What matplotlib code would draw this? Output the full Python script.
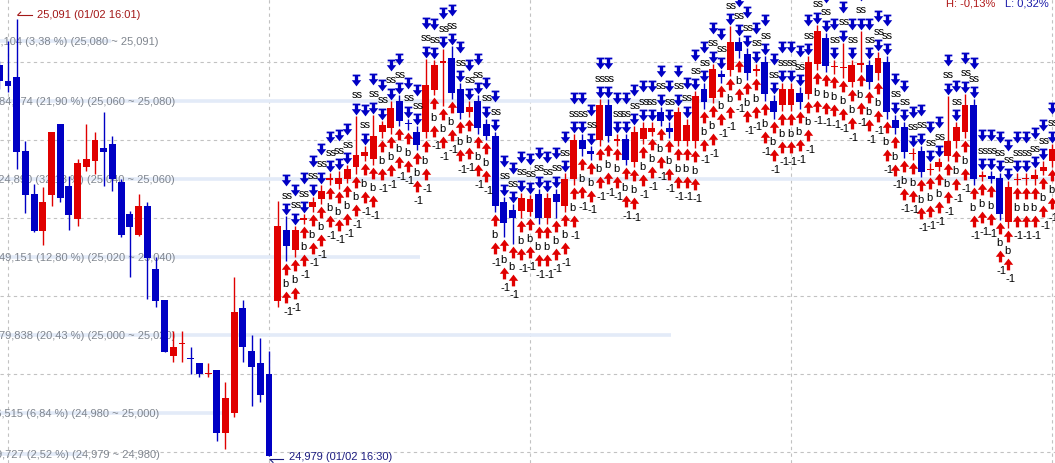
import numpy as np
import matplotlib
matplotlib.use("Agg")
import matplotlib.pyplot as plt
from matplotlib.path import Path

plt.rcParams['font.family'] = ['Liberation Sans', 'DejaVu Sans']

# minute offset from 16:00 (one candle per minute)
minutes = list(range(-1, 121))

opens = [25079.2, 25075.1, 25076.2, 25057.2, 25046.2, 25036.7, 25045.9, 25064.1, 25048.2, 25039.7,
         25053.1, 25054.6, 25058.0, 25059.0, 25049.2, 25041.0, 25035.6, 25043.1, 25026.9, 25019.0,
         25004.6, 25007.7, 25004.0, 25002.8, 24999.9, 25001.0, 24984.9, 24990.0, 25016.9, 25005.9,
         25002.8, 25000.0, 25018.7, 25036.9, 25031.8, 25039.5, 25042.8, 25044.9, 25049.8, 25048.7,
         25050.0, 25053.1, 25056.0, 25055.1, 25062.1, 25063.1, 25070.0, 25064.2, 25062.1, 25062.1,
         25072.8, 25079.8, 25081.0, 25073.1, 25067.2, 25070.0, 25064.1, 25061.0, 25044.1, 25042.1,
         25041.8, 25041.5, 25046.2, 25040.0, 25046.2, 25043.1, 25050.0, 25060.0, 25057.2, 25060.0,
         25069.0, 25059.8, 25060.3, 25054.4, 25060.3, 25062.1, 25067.2, 25063.1, 25059.7, 25059.7,
         25059.7, 25073.1, 25070.8, 25076.9, 25077.9, 25085.1, 25082.1, 25077.8, 25080.0, 25070.0,
         25069.0, 25069.0, 25072.1, 25071.8, 25079.5, 25086.2, 25078.6, 25078.5, 25074.9, 25079.3,
         25079.2, 25077.2, 25080.0, 25065.1, 25063.3, 25056.3, 25057.2, 25052.2, 25053.1, 25055.9,
         25059.7, 25062.1, 25069.0, 25050.6, 25050.8, 25050.3, 25039.0, 25049.8, 25049.9, 25050.0,
         25052.1, 25054.6]
highs = [25080.3, 25085.4, 25091.0, 25059.7, 25048.7, 25047.9, 25062.1, 25064.1, 25050.8, 25055.1,
         25064.1, 25062.1, 25067.2, 25061.0, 25050.0, 25041.8, 25046.2, 25044.1, 25030.0, 25019.0,
         25011.0, 25011.0, 25006.9, 25002.8, 25002.8, 25001.0, 24997.9, 25024.9, 25019.0, 25010.0,
         25009.2, 25005.9, 25044.4, 25040.5, 25038.0, 25041.0, 25045.5, 25048.5, 25051.5, 25052.0,
         25053.5, 25066.2, 25058.5, 25066.5, 25065.0, 25070.0, 25071.5, 25065.5, 25063.5, 25080.8,
         25080.5, 25083.3, 25084.1, 25074.5, 25070.0, 25071.5, 25065.5, 25062.0, 25045.5, 25043.5,
         25046.5, 25046.0, 25047.5, 25046.5, 25047.5, 25051.5, 25061.5, 25061.5, 25058.5, 25070.5,
         25070.5, 25061.5, 25061.5, 25063.5, 25064.5, 25064.5, 25068.5, 25064.5, 25068.5, 25065.5,
         25072.5, 25074.5, 25079.5, 25078.0, 25089.2, 25086.5, 25083.5, 25079.5, 25081.5, 25071.5,
         25074.5, 25074.5, 25073.5, 25081.5, 25089.5, 25087.5, 25080.5, 25085.0, 25080.5, 25088.0,
         25080.5, 25082.5, 25081.5, 25066.5, 25064.5, 25058.0, 25058.5, 25054.0, 25055.5, 25071.3,
         25064.5, 25071.8, 25070.5, 25052.0, 25052.0, 25051.5, 25049.5, 25051.5, 25051.5, 25052.5,
         25054.5, 25059.0]
lows = [25073.1, 25072.3, 25052.6, 25041.3, 25036.4, 25033.1, 25043.1, 25044.1, 25036.9, 25037.9,
        25052.1, 25051.3, 25048.2, 25046.9, 25035.1, 25024.9, 25035.3, 25019.2, 25017.2, 25005.6,
        25003.1, 25003.1, 25000.0, 24999.2, 24999.2, 24982.8, 24980.8, 24989.0, 25003.1, 24991.8,
        24992.8, 24979.0, 25017.2, 25029.0, 25030.0, 25038.5, 25041.5, 25043.5, 25048.5, 25047.5,
        25049.0, 25051.3, 25054.5, 25053.5, 25060.5, 25061.5, 25063.5, 25062.5, 25057.5, 25060.5,
        25071.5, 25068.7, 25070.5, 25065.5, 25066.0, 25061.5, 25060.0, 25041.5, 25035.1, 25033.3,
        25040.0, 25040.5, 25038.5, 25038.5, 25040.0, 25041.5, 25048.5, 25056.0, 25055.0, 25058.5,
        25059.5, 25058.5, 25053.5, 25053.0, 25059.0, 25061.0, 25063.5, 25060.5, 25058.5, 25058.5,
        25058.0, 25068.0, 25069.5, 25074.5, 25076.5, 25081.0, 25075.5, 25076.5, 25070.0, 25065.5,
        25067.5, 25067.5, 25068.0, 25070.5, 25078.0, 25077.5, 25077.0, 25076.0, 25073.5, 25077.5,
        25073.0, 25075.5, 25065.5, 25061.5, 25055.5, 25055.0, 25050.5, 25051.0, 25052.0, 25054.5,
        25058.0, 25060.5, 25048.5, 25049.5, 25049.0, 25039.5, 25037.5, 25048.5, 25048.5, 25048.5,
        25051.0, 25053.0]
closes = [25075.1, 25073.8, 25056.9, 25045.9, 25036.7, 25044.1, 25062.1, 25045.1, 25040.8, 25054.1,
          25055.1, 25060.0, 25056.9, 25050.0, 25035.6, 25037.7, 25043.1, 25029.7, 25018.7, 25005.6,
          25006.9, 25008.0, 25003.8, 25000.0, 25000.1, 24984.9, 24993.8, 25015.9, 25006.9, 25001.8,
          24994.6, 24979.0, 25037.9, 25032.8, 25036.9, 25040.0, 25044.2, 25047.0, 25050.2, 25050.2,
          25052.5, 25056.1, 25057.0, 25061.0, 25063.8, 25068.2, 25064.9, 25064.0, 25058.7, 25074.1,
          25079.2, 25080.2, 25072.1, 25066.9, 25068.5, 25063.1, 25061.0, 25043.1, 25038.7, 25040.0,
          25045.1, 25045.0, 25040.0, 25045.1, 25044.1, 25050.0, 25060.0, 25057.7, 25056.4, 25069.0,
          25061.0, 25060.2, 25054.9, 25062.1, 25063.1, 25063.1, 25064.9, 25062.1, 25067.2, 25063.8,
          25071.3, 25069.7, 25078.2, 25076.2, 25085.1, 25082.8, 25077.2, 25078.1, 25071.8, 25067.2,
          25073.1, 25073.1, 25069.7, 25080.0, 25087.9, 25079.0, 25078.9, 25078.8, 25079.2, 25079.7,
          25074.9, 25081.0, 25067.2, 25063.1, 25056.9, 25056.6, 25051.8, 25052.5, 25054.4, 25059.7,
          25063.3, 25069.0, 25050.0, 25050.9, 25050.0, 25041.0, 25047.9, 25050.1, 25050.2, 25051.0,
          25053.1, 25057.7]

# price-band volume profile
band_low = [25080, 25060, 25040, 25020, 25000, 24980, 24979]
band_high = [25091, 25080, 25060, 25040, 25020, 25000, 24980]
band_vol = ["13,104", "84,974", "124,890", "49,151", "79,838", "26,515", "9,727"]
band_pct = [3.38, 21.90, 32.13, 12.80, 20.43, 6.84, 2.52]

# signals shown from this minute on
signal_from = 31
sell_text = "ss"
buy_text = "b"
exit_text = "-1"

high_text = "25,091 (01/02 16:01)"
low_text = "24,979 (01/02 16:30)"
hi_pct_text = "H: -0,13%"
lo_pct_text = "L: 0,32%"

RED = '#e00000'
BLUE = '#0000c4'
W, H = 1055, 464
PXX, PXY = 8.7, 3.9          # px per candle, px per price unit
X0, Y0 = 8, 375              # pixel of minute 0 / price 25000

fig = plt.figure(figsize=(W / 100, H / 100), dpi=100)
ax = fig.add_axes([0, 0, 1, 1])
ax.set_xlim((0 - X0) / PXX, (W - X0) / PXX)
ax.set_ylim(25000 - (H - Y0) / PXY, 25000 + Y0 / PXY)
ax.axis('off')

def pdata(px, py):
    return (px - X0) / PXX, 25000 + (Y0 - py) / PXY

# grid
for p in range(24980, 25081, 20):
    ax.axhline(p, color='#c2c2c2', lw=0.8, ls=(0, (3, 3)), zorder=0)
for m in range(0, 121, 30):
    ax.axvline(m, color='#c2c2c2', lw=0.8, ls=(0, (3, 3)), zorder=0)

# volume profile lines and labels
ends = [159, 175, 175, 175, 175, 159, 160]
maxp = max(band_pct)
for lo, hi, v, pc, e in zip(band_low, band_high, band_vol, band_pct, ends):
    mid = (lo + hi) / 2
    ax.plot([0, pc / maxp], [mid, mid], transform=ax.get_yaxis_transform(),
            color='#e3ebf8', lw=2.6, solid_capstyle='butt', zorder=1)
    lab = f"{v} ({pc:.2f} %) ({lo:,} ~ {hi:,})".replace('.', ',')
    ax.text(e / W, mid, lab, transform=ax.get_yaxis_transform(), ha='right',
            va='center', fontsize=8, color='#80868f', zorder=2, clip_on=False)

# candles
x = np.array(minutes, dtype=float)
o = np.array(opens); h = np.array(highs); l = np.array(lows); c = np.array(closes)
cols = np.where(c >= o, RED, BLUE)
ax.vlines(x, l, h, colors=cols, lw=1.0, zorder=3)
bot = np.minimum(o, c)
hgt = np.maximum(np.abs(c - o), 0.3)
ax.bar(x, hgt, bottom=bot, width=0.8, color=cols, zorder=4, linewidth=0)

# arrow markers
down = Path([(-0.65, 1), (0.65, 1), (0.65, 0.7), (0.28, 0.7), (0.28, 0.05), (0.8, 0.05),
             (0, -1), (-0.8, 0.05), (-0.28, 0.05), (-0.28, 0.7), (-0.65, 0.7), (-0.65, 1)],
            closed=True)
up = Path([(0, 1), (0.8, -0.05), (0.28, -0.05), (0.28, -1), (-0.28, -1), (-0.28, -0.05),
           (-0.8, -0.05), (0, 1)], closed=True)

sel = x >= signal_from + 1
xs, hs, ls_ = x[sel], h[sel], l[sel]
d = 1 / PXY
MS = 72
ax.scatter(xs, hs + 7 * d, marker=down, s=MS, color=BLUE, zorder=6, linewidths=0)
ax.scatter(xs, hs + 36 * d, marker=down, s=MS, color=BLUE, zorder=6, linewidths=0)
ax.scatter(xs, ls_ - 8 * d, marker=up, s=MS, color=RED, zorder=6, linewidths=0)
ax.scatter(xs, ls_ - 36 * d, marker=up, s=MS, color=RED, zorder=6, linewidths=0)
for xi, hi_, lo_ in zip(xs, hs, ls_):
    ax.text(xi + 0.1, hi_ + 21.5 * d, sell_text, ha='center', va='center', fontsize=8,
            color='black', zorder=7)
    ax.text(xi - 0.1, lo_ - 22 * d, buy_text, ha='center', va='center', fontsize=8,
            color='black', zorder=7)
    ax.text(xi + 0.2, lo_ - 50 * d, exit_text, ha='center', va='center', fontsize=8,
            color='black', zorder=7)

# high / low markers
ih = int(np.argmax(h)); il = int(np.argmin(l))
hx, hy = X0 + minutes[ih] * PXX, Y0 - (h[ih] - 25000) * PXY
lx, ly = X0 + minutes[il] * PXX, Y0 - (l[il] - 25000) * PXY
for seg in ([(hx + 1, hy - 4), (hx + 15, hy - 4)], [(hx + 1, hy - 4), (hx + 4, hy - 7)]):
    ax.plot(*zip(*[pdata(*p) for p in seg]), color='#a31818', lw=0.8, zorder=8)
ax.text(*pdata(hx + 20, hy - 5), high_text, fontsize=8, color='#a31818', va='center', zorder=8)
for seg in ([(lx + 1, ly + 3.5), (lx + 14, ly + 3.5)], [(lx + 1, ly + 3.5), (lx + 4, ly + 6.5)]):
    ax.plot(*zip(*[pdata(*p) for p in seg]), color='#1c1c80', lw=0.8, zorder=8)
ax.text(*pdata(lx + 20, ly), low_text, fontsize=8, color='#1c1c80', va='center', zorder=8)

fig.text(946 / W, 1 - 4 / H, hi_pct_text, fontsize=8, color='#b01818', va='center')
fig.text(1005 / W, 1 - 4 / H, lo_pct_text, fontsize=8, color='#1818a8', va='center')

fig.savefig('out.png', dpi=100)
